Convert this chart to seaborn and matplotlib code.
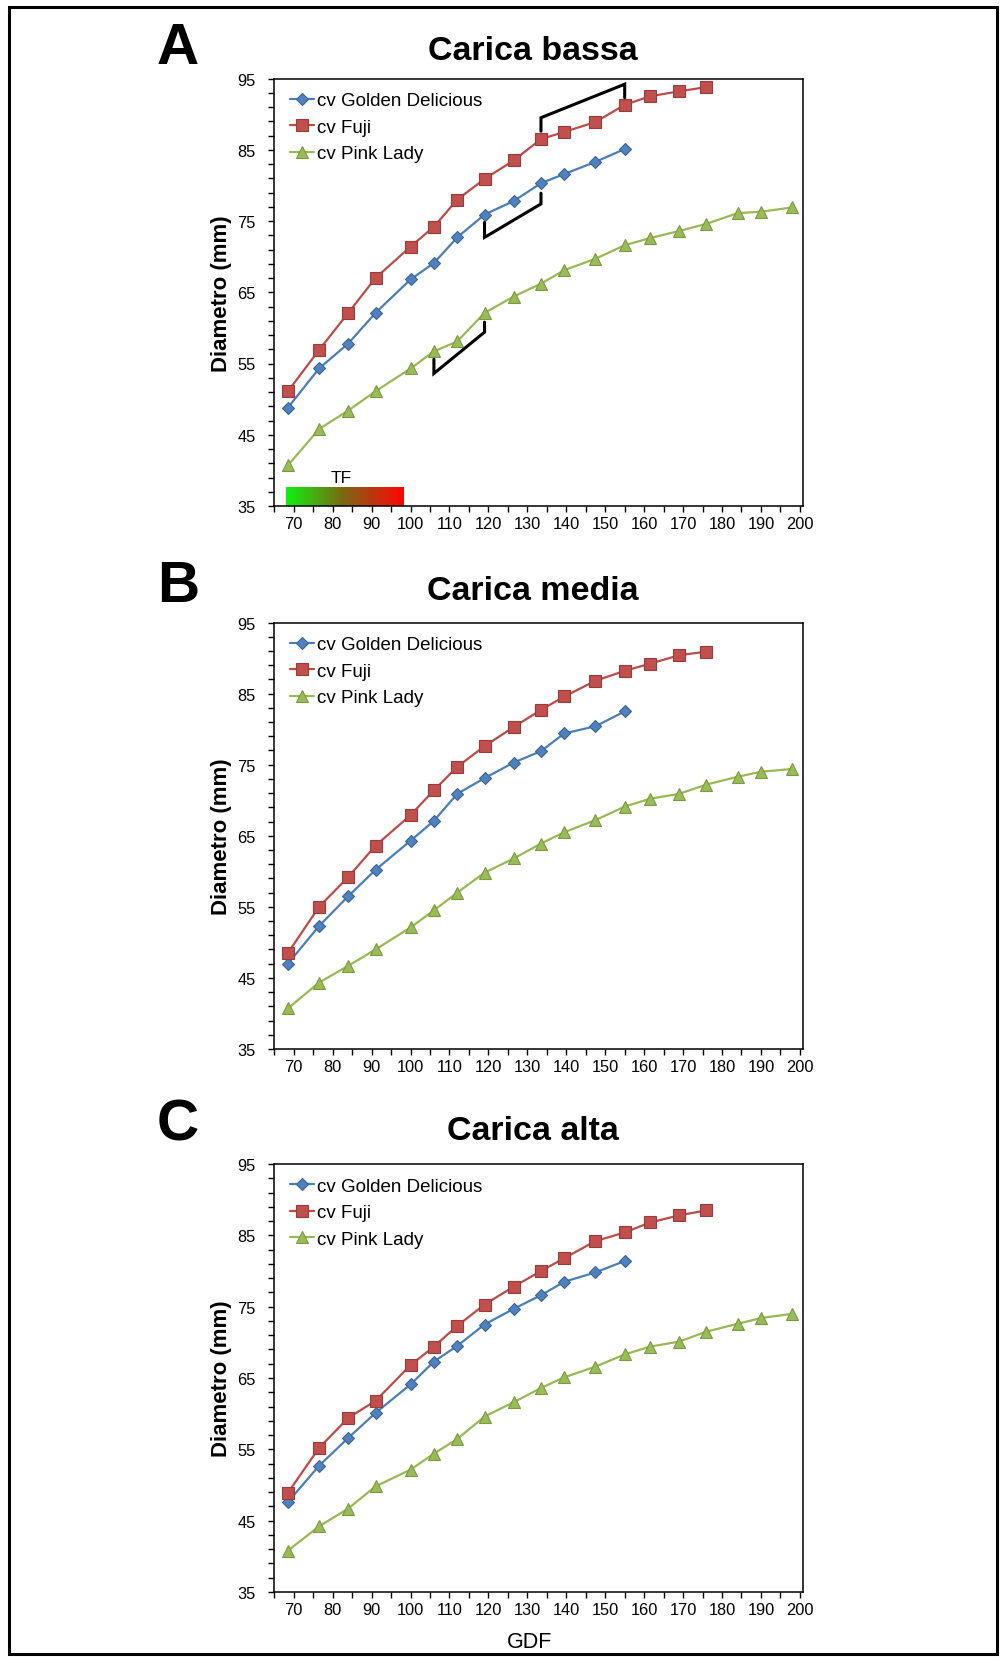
import numpy as np
import pandas as pd
import matplotlib
matplotlib.use("Agg")
import matplotlib.pyplot as plt
from matplotlib.colors import LinearSegmentedColormap
from matplotlib.patches import Rectangle
from matplotlib.ticker import FixedLocator
import seaborn as sns

# ---------------- data ----------------
gdf = [68.5, 76.5, 84, 91, 100, 106, 112, 119, 126.5, 133.5, 139.5, 147.5,
       155, 161.5, 169, 176, 184, 190, 198]

series_names = ["cv Golden Delicious", "cv Fuji", "cv Pink Lady"]
panel_titles = ["Carica bassa", "Carica media", "Carica alta"]
panel_letters = ["A", "B", "C"]

golden_A = [48.8, 54.3, 57.8, 62.1, 66.8, 69.1, 72.7, 75.9, 77.8, 80.3, 81.6, 83.3, 85.1]
fuji_A = [51.1, 56.9, 62.1, 67.0, 71.4, 74.2, 78.0, 80.9, 83.5, 86.5, 87.5, 88.9,
          91.3, 92.5, 93.2, 93.8]
pink_A = [40.7, 45.8, 48.4, 51.1, 54.3, 56.7, 58.1, 62.1, 64.4, 66.2, 68.1, 69.7,
          71.6, 72.6, 73.6, 74.6, 76.1, 76.3, 76.9]

golden_B = [47.0, 52.3, 56.5, 60.2, 64.3, 67.1, 70.9, 73.1, 75.3, 76.9, 79.4, 80.4, 82.5]
fuji_B = [48.5, 55.0, 59.2, 63.6, 67.9, 71.4, 74.7, 77.6, 80.3, 82.7, 84.6, 86.8,
          88.2, 89.2, 90.4, 90.9]
pink_B = [40.7, 44.35, 46.7, 49.0, 52.1, 54.5, 57.0, 59.8, 61.8, 63.9, 65.5, 67.2,
          69.1, 70.2, 70.9, 72.2, 73.3, 74.0, 74.4]

golden_C = [47.6, 52.7, 56.6, 60.1, 64.1, 67.3, 69.5, 72.5, 74.7, 76.6, 78.5, 79.8, 81.4]
fuji_C = [48.9, 55.2, 59.4, 61.8, 66.8, 69.4, 72.3, 75.3, 77.8, 80.0, 81.8, 84.2,
          85.4, 86.8, 87.8, 88.5]
pink_C = [40.8, 44.2, 46.7, 49.8, 52.15, 54.4, 56.45, 59.6, 61.6, 63.6, 65.1, 66.6,
          68.3, 69.4, 70.1, 71.5, 72.6, 73.4, 74.0]

# bracket annotations in panel A (data coordinates)
bracket_fuji_x = [133.5, 133.5, 155, 155]
bracket_fuji_y = [87.6, 89.5, 94.2, 92.3]
bracket_golden_x = [119, 119, 133.5, 133.5]
bracket_golden_y = [74.8, 72.7, 77.4, 78.9]
bracket_pink_x = [106, 106, 119, 119]
bracket_pink_y = [55.6, 53.6, 59.4, 60.8]

# TF bar (flowering period) in panel A
tf_x = [67.9, 98.2]
tf_y = [35.0, 37.6]
tf_label = "TF"

x_ticks = list(range(70, 201, 10))
x_minor = list(range(65, 200, 10))
y_ticks = list(range(35, 96, 10))
y_minor = list(range(35, 96, 2))

# ---------------- style ----------------
sns.set_style("ticks")
plt.rcParams["font.family"] = ["Liberation Sans", "DejaVu Sans"]
plt.rcParams["text.color"] = "black"
plt.rcParams["axes.labelcolor"] = "black"
plt.rcParams["xtick.color"] = "black"
plt.rcParams["ytick.color"] = "black"

line_colors = ["#4A7EBB", "#BE4B48", "#98B954"]
face_colors = ["#4F81BD", "#C0504D", "#9BBB59"]
edge_colors = ["#3B6597", "#9A3B39", "#7A9A40"]
markers = ["D", "s", "^"]
msizes = [6.3, 8.3, 8.8]

fig = plt.figure(figsize=(10, 16.58), dpi=100)
W, H = 1000.0, 1658.0

ax_left, ax_right = 273.5, 803.0
panel_tops = [79.5, 623.5, 1165.0]
panel_bottoms = [507.0, 1050.0, 1593.0]
title_baselines = [60.0, 600.5, 1140.0]
letter_baselines = [64.0, 602.0, 1140.5]

panels = [
    (golden_A, fuji_A, pink_A),
    (golden_B, fuji_B, pink_B),
    (golden_C, fuji_C, pink_C),
]

tf_cmap = LinearSegmentedColormap.from_list(
    "tf", [(0.0, "#10F010"), (0.5, "#806514"), (1.0, "#FF0505")])

leg_fs = 13.5
leg_fs_px = leg_fs * 100 / 72.0

for i, (ys_g, ys_f, ys_p) in enumerate(panels):
    top, bot = panel_tops[i], panel_bottoms[i]
    ax = fig.add_axes([ax_left / W, 1 - bot / H, (ax_right - ax_left) / W, (bot - top) / H])

    for j, ys in enumerate([ys_g, ys_f, ys_p]):
        xs = gdf[:len(ys)]
        sns.lineplot(x=xs, y=ys, ax=ax, color=line_colors[j], linewidth=1.6,
                     marker=markers[j], markersize=msizes[j],
                     markerfacecolor=face_colors[j], markeredgecolor=edge_colors[j],
                     markeredgewidth=0.8, label=series_names[j], zorder=3,
                     estimator=None, sort=False)

    if i == 0:
        for bx, by in [(bracket_fuji_x, bracket_fuji_y),
                       (bracket_golden_x, bracket_golden_y),
                       (bracket_pink_x, bracket_pink_y)]:
            ax.plot(bx, by, color="black", linewidth=2.2, solid_joinstyle="miter",
                    zorder=4)
        grad = np.linspace(0, 1, 256).reshape(1, -1)
        ax.imshow(grad, cmap=tf_cmap, aspect="auto",
                  extent=[tf_x[0], tf_x[1], tf_y[0], tf_y[1]], zorder=2)
        ax.text((tf_x[0] + tf_x[1]) / 2 - 0.8, tf_y[1] + 0.35, tf_label,
                fontsize=12.5, ha="center", va="bottom", color="black")

    ax.set_xlim(64.8, 200.8)
    ax.set_ylim(35, 95)
    ax.xaxis.set_major_locator(FixedLocator(x_ticks))
    ax.xaxis.set_minor_locator(FixedLocator(x_minor))
    ax.set_xticklabels([str(t) for t in x_ticks])
    ax.yaxis.set_major_locator(FixedLocator(y_ticks))
    ax.yaxis.set_minor_locator(FixedLocator(y_minor))
    ax.set_yticklabels([str(t) for t in y_ticks])
    ax.tick_params(axis="both", which="both", direction="out", length=4,
                   width=1.0, color="black", labelcolor="black")
    ax.tick_params(axis="y", which="major", labelsize=11.8, pad=9)
    ax.tick_params(axis="x", which="major", labelsize=11.8, pad=3.5)
    for sp in ax.spines.values():
        sp.set_visible(True)
        sp.set_color("black")
        sp.set_linewidth(1.1)

    ax.set_ylabel("Diametro (mm)", fontsize=16, fontweight="bold", color="black")
    ax.yaxis.set_label_coords((232 - ax_left) / (ax_right - ax_left), 0.5)
    if i == 2:
        ax.set_xlabel("GDF", fontsize=15.5, color="black")
        ax.xaxis.set_label_coords((529.5 - ax_left) / (ax_right - ax_left),
                                  -(1648 - bot) / (bot - top))
        ax.xaxis.label.set_va("baseline")
    else:
        ax.set_xlabel("")

    leg = ax.legend(loc="upper left",
                    bbox_to_anchor=(0.031, 1 - (100.5 - 0.40 * leg_fs_px - 79.5) / (bot - top)),
                    frameon=False, fontsize=leg_fs, handlelength=1.28,
                    handletextpad=0.14, labelspacing=0.50, borderpad=0,
                    borderaxespad=0)
    for t in leg.get_texts():
        t.set_color("black")

    fig.text(533 / W, 1 - title_baselines[i] / H, panel_titles[i], fontsize=24.5,
             fontweight="bold", ha="center", va="baseline", color="black")
    fig.text(157 / W, 1 - letter_baselines[i] / H, panel_letters[i], fontsize=42,
             fontweight="bold", ha="left", va="baseline", color="black")

# outer frame of the figure
fig.patches.append(Rectangle((8.5 / W, 1 - 1655 / H), (997 - 8.5) / W, (1655 - 7.5) / H,
                             transform=fig.transFigure, fill=False,
                             edgecolor="black", linewidth=2.2, zorder=10))

fig.savefig("out.png", dpi=100)
